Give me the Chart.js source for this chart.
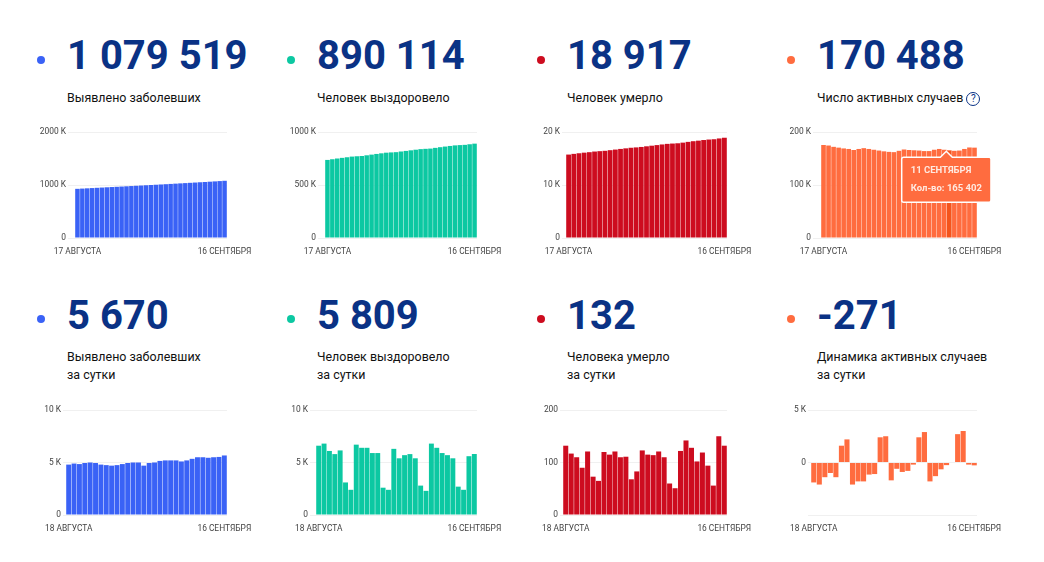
<!DOCTYPE html>
<html lang="ru">
  <head>
    <meta charset="UTF-8" />
    <script src="https://cdn.jsdelivr.net/npm/chart.js"></script>
    <title>COVID</title>
    <style>
      html, body { margin: 0; background: #fff; }
      body { width: 1044px; height: 562px; position: relative; overflow: hidden; font-family: Roboto, sans-serif; }
      canvas { position: absolute; }
      .dot { position: absolute; width: 8px; height: 8px; border-radius: 50%; }
      .num { position: absolute; font-size: 40px; line-height: 46px; font-weight: 700; color: #0a3285; white-space: nowrap; }
      .lbl { position: absolute; font-size: 12.45px; line-height: 18px; color: #111; white-space: nowrap; }
      .help { display: inline-block; width: 12px; height: 12px; line-height: 12px; border: 1px solid #0a3285; border-radius: 50%; font-size: 10px; text-align: center; color: #0a3285; margin-left: 3px; vertical-align: 0; }
    </style>
  </head>
  <body>
    <script>
      const daysAll = ["17 АВГУСТА","18 АВГУСТА","19 АВГУСТА","20 АВГУСТА","21 АВГУСТА","22 АВГУСТА","23 АВГУСТА","24 АВГУСТА","25 АВГУСТА","26 АВГУСТА","27 АВГУСТА","28 АВГУСТА","29 АВГУСТА","30 АВГУСТА","31 АВГУСТА","1 СЕНТЯБРЯ","2 СЕНТЯБРЯ","3 СЕНТЯБРЯ","4 СЕНТЯБРЯ","5 СЕНТЯБРЯ","6 СЕНТЯБРЯ","7 СЕНТЯБРЯ","8 СЕНТЯБРЯ","9 СЕНТЯБРЯ","10 СЕНТЯБРЯ","11 СЕНТЯБРЯ","12 СЕНТЯБРЯ","13 СЕНТЯБРЯ","14 СЕНТЯБРЯ","15 СЕНТЯБРЯ","16 СЕНТЯБРЯ"];
      const daysDaily = daysAll.slice(1);

      const totalCases = [927700,932500,937300,942100,947000,951900,956800,961500,966200,970900,975600,980400,985300,990300,995300,1000000,1005000,1010000,1015100,1020300,1025500,1030700,1035800,1041000,1046300,1051700,1057100,1062500,1068000,1073800,1079519];
      const totalRecovered = [736500,743100,749900,756000,761800,768000,771100,773500,780200,786600,793000,798900,804800,807400,809800,816100,821500,827200,833000,838400,841200,843500,850300,856700,862600,868300,873700,876400,878800,884400,890114];
      const totalDeaths = [15742,15874,15991,16101,16191,16312,16385,16450,16570,16685,16806,16916,17027,17095,17178,17301,17416,17530,17651,17761,17821,17872,17994,18136,18264,18366,18485,18579,18635,18785,18917];
      const totalActive = [175500,174500,172000,170500,169000,168000,166000,168000,169500,168000,166500,165000,163500,162500,162000,164500,167000,166000,165500,165000,164000,164000,166500,168000,166500,165402,164500,165000,168000,170800,170488];

      const dailyCases = [4800,4900,4850,4950,5000,4950,4800,4750,4700,4750,4850,4950,5000,5000,4700,4950,5000,5150,5200,5200,5200,5100,5200,5350,5500,5500,5450,5500,5530,5670];
      const dailyRecovered = [6600,6800,6100,5800,6150,3100,2400,6700,6400,6400,5900,5900,2600,2400,6300,5400,5700,5800,5400,2800,2300,6800,6400,5900,5700,5400,2700,2400,5600,5809];
      const dailyDeaths = [132,117,110,90,121,73,65,120,115,121,110,111,68,83,123,115,114,121,110,60,51,122,142,128,102,119,94,56,150,132];
      const dailyActive = [-1900,-2100,-1400,-1000,-1400,1600,2200,-2100,-1800,-1800,-1150,-1100,2400,2500,-1700,-600,-900,-800,-200,2400,2900,-1800,-1300,-650,-250,50,2700,3000,-200,-271];

      const panels = [
        { num: "1 079 519", text: ["Выявлено заболевших"], color: "#3a62f6", days: daysAll, values: totalCases, ticks: [0, 1000000, 2000000], tickText: ["0", "1000 K", "2000 K"], col: 0, row: 0, plot: [75, 227], tick: 7 },
        { num: "890 114", text: ["Человек выздоровело"], color: "#0cc8a2", days: daysAll, values: totalRecovered, ticks: [0, 500000, 1000000], tickText: ["0", "500 K", "1000 K"], col: 1, row: 0, plot: [325, 477], tick: 7 },
        { num: "18 917", text: ["Человек умерло"], color: "#cd0c1f", days: daysAll, values: totalDeaths, ticks: [0, 10000, 20000], tickText: ["0", "10 K", "20 K"], col: 2, row: 0, plot: [566, 727], tick: 4 },
        { num: "170 488", text: ["Число активных случаев"], help: true, color: "#ff6c3f", days: daysAll, values: totalActive, ticks: [0, 100000, 200000], tickText: ["0", "100 K", "200 K"], col: 3, row: 0, plot: [821, 977], tick: 8, hover: 25 },
        { num: "5 670", text: ["Выявлено заболевших", "за сутки"], color: "#3a62f6", days: daysDaily, values: dailyCases, ticks: [0, 5000, 10000], tickText: ["0", "5 K", "10 K"], col: 0, row: 1, plot: [66, 227], tick: 3 },
        { num: "5 809", text: ["Человек выздоровело", "за сутки"], color: "#0cc8a2", days: daysDaily, values: dailyRecovered, ticks: [0, 5000, 10000], tickText: ["0", "5 K", "10 K"], col: 1, row: 1, plot: [316, 477], tick: 6 },
        { num: "132", text: ["Человека умерло", "за сутки"], color: "#cd0c1f", days: daysDaily, values: dailyDeaths, ticks: [0, 100, 200], tickText: ["0", "100", "200"], col: 2, row: 1, plot: [563, 727], tick: 3 },
        { num: "-271", text: ["Динамика активных случаев", "за сутки"], color: "#ff6c3f", days: daysDaily, values: dailyActive, ticks: [-5000, 0, 5000], tickText: ["", "0", "5 K"], col: 3, row: 1, plot: [811, 977], tick: 3 },
      ];

      const colX = [67, 317, 567, 817];
      const rows = [
        { numTop: 33, lblTop: 89, dotY: 60, plotTop: 132, plotBottom: 238 },
        { numTop: 293, lblTop: 348, dotY: 319, plotTop: 410, plotBottom: 515 },
      ];

      // tooltip box sits a little left of its bar in the original
      Chart.Tooltip.positioners.shifted = function (items) {
        const pos = Chart.Tooltip.positioners.average.call(this, items);
        return { x: pos.x - 3, y: pos.y };
      };

      function addEl(cls, left, top, html, color) {
        const el = document.createElement("div");
        el.className = cls;
        el.style.left = left + "px";
        el.style.top = top + "px";
        if (html) el.innerHTML = html;
        if (color) el.style.background = color;
        document.body.appendChild(el);
      }

      panels.forEach((p) => {
        const r = rows[p.row];
        const x = colX[p.col];
        addEl("dot", x - 30, r.dotY - 4, "", p.color);
        addEl("num", x, r.numTop, p.num);
        p.text.forEach((t, i) => {
          const extra = p.help ? '<span class="help">?</span>' : "";
          addEl("lbl", x, r.lblTop + i * 18, t + extra);
        });

        const leftSpace = 45, topSpace = 10, rightSpace = 30, bottomSpace = 30;
        const canvas = document.createElement("canvas");
        const w = p.plot[1] - p.plot[0] + leftSpace + rightSpace;
        const h = r.plotBottom - r.plotTop + topSpace + bottomSpace;
        canvas.style.left = p.plot[0] - leftSpace + "px";
        canvas.style.top = r.plotTop - topSpace + "px";
        canvas.style.width = w + "px";
        canvas.style.height = h + "px";
        canvas.width = w;
        canvas.height = h;
        document.body.appendChild(canvas);

        const last = p.days.length - 1;
        const chart = new Chart(canvas, {
          type: "bar",
          data: {
            labels: p.days,
            datasets: [{
              data: p.values,
              backgroundColor: p.color,
              hoverBackgroundColor: "#f4541c",
              barPercentage: 0.92,
              categoryPercentage: 1,
            }],
          },
          options: {
            responsive: false,
            animation: false,
            events: [],
            layout: { padding: { top: topSpace, right: rightSpace, left: 0, bottom: 0 } },
            plugins: {
              legend: { display: false },
              tooltip: {
                enabled: p.hover !== undefined,
                position: "shifted",
                yAlign: "top",
                xAlign: "center",
                caretSize: 6,
                caretPadding: 1,
                backgroundColor: "#ff6c3f",
                borderColor: "#fff",
                borderWidth: 1.5,
                cornerRadius: 2,
                displayColors: false,
                padding: { x: 9, y: 8 },
                titleColor: "#ffe9e0",
                bodyColor: "#ffe9e0",
                titleFont: { family: "Roboto", size: 9.5, weight: "bold" },
                bodyFont: { family: "Roboto", size: 9.5, weight: "bold" },
                titleMarginBottom: 6,
                callbacks: {
                  label: (ctx) => "Кол-во: " + ctx.raw.toString().replace(/\B(?=(\d{3})+$)/g, " "),
                },
              },
            },
            scales: {
              x: {
                grid: { display: false },
                border: { display: false },
                afterFit: (s) => { s.height = bottomSpace; },
                ticks: {
                  autoSkip: false,
                  maxRotation: 0,
                  padding: 1,
                  color: "#444",
                  font: { family: "Roboto", size: 8.4 },
                  callback: (v, i) => (i === 0 || i === last ? p.days[i] : null),
                },
              },
              y: {
                min: p.ticks[0],
                max: p.ticks[2],
                border: { display: false },
                grid: { color: "#f0f0f0", lineWidth: 1, tickLength: p.tick },
                afterBuildTicks: (s) => { s.ticks = p.ticks.map((v) => ({ value: v })); },
                afterFit: (s) => { s.width = leftSpace; },
                ticks: {
                  padding: 2,
                  color: "#444",
                  font: { family: "Roboto", size: 8.4 },
                  callback: (v, i) => p.tickText[i],
                },
              },
            },
          },
        });

        if (p.hover !== undefined) {
          const active = [{ datasetIndex: 0, index: p.hover }];
          chart.setActiveElements(active);
          chart.tooltip.setActiveElements(active, { x: 0, y: 0 });
          chart.update("none");
        }
      });
    </script>
  </body>
</html>
